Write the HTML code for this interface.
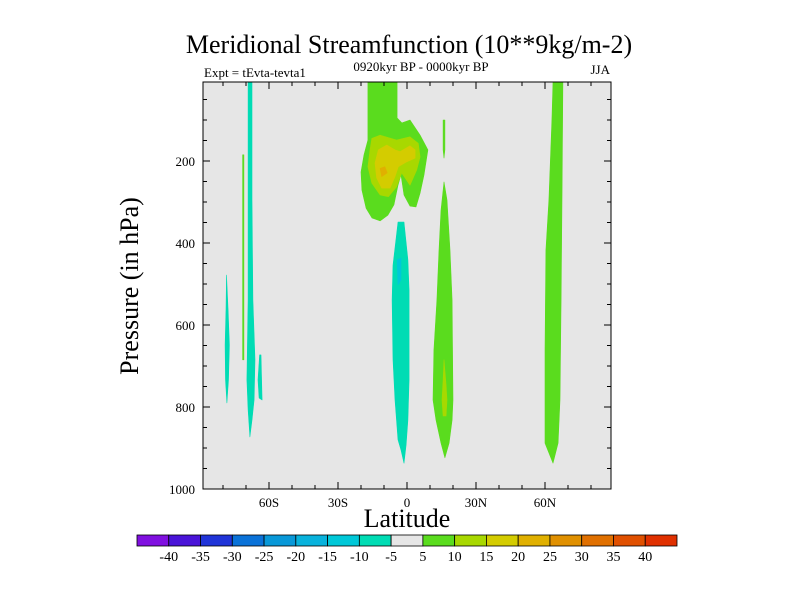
<!DOCTYPE html>
<html><head><meta charset="utf-8"><style>
html,body{margin:0;padding:0;background:#fff;}
svg{display:block;font-family:"Liberation Serif",serif;}
</style></head><body>
<svg id="chart" width="800" height="600" viewBox="0 0 800 600" xmlns="http://www.w3.org/2000/svg">
<text x="409" y="53" font-size="26" text-anchor="middle">Meridional Streamfunction (10**9kg/m-2)</text>
<text x="204" y="77" font-size="13">Expt = tEvta-tevta1</text>
<text x="421" y="71" font-size="13" text-anchor="middle">0920kyr BP - 0000kyr BP</text>
<text x="610" y="74" font-size="13" text-anchor="end">JJA</text>
<text transform="translate(138,286) rotate(-90)" font-size="26" text-anchor="middle">Pressure (in hPa)</text>
<text x="407" y="527" font-size="26" text-anchor="middle">Latitude</text>
<rect x="203" y="82" width="408" height="407" fill="#e6e6e6"/>
<g id="fills"></g>
<rect x="203" y="82" width="408" height="407" fill="none" stroke="#000" stroke-width="1"/>
<g id="ticks"></g>
<g id="cbar"></g>
</svg>
<script>
const levelColors = ["#8010e0","#4a14d8","#2034d8","#0a72d8","#0898d8","#08b2dc","#00c8d8","#00dcb4","#e6e6e6","#5adc1e","#a8d800","#d4cc00","#e0b000","#e09000","#e07000","#e05000","#e03000"];
const levelLabels = ["-40","-35","-30","-25","-20","-15","-10","-5","5","10","15","20","25","30","35","40"];
const latTicks = [-60,-30,0,30,60];
const latTickLabels = ["60S","30S","0","30N","60N"];
const presTicks = [200,400,600,800,1000];
// contour regions: [level color index, [[lat, hPa], ...]]
const regionEqGreen = [[-17.0,7],[-4.3,7],[-4.3,95],[-2.2,107],[1.3,100],[5.7,137],[9.1,173],[7.4,234],[5.7,278],[3.9,312],[1.3,310],[-1.3,283],[-2.6,234],[-3.9,259],[-5.7,307],[-8.3,332],[-11.7,346],[-15.2,339],[-17.8,315],[-19.6,271],[-20.0,227],[-18.7,185],[-17.0,149]];
const regionEqYG = [[-15.3,145],[-11.7,137],[-4.5,149],[1.3,141],[4.9,157],[5.7,190],[4.2,222],[1.3,259],[-2.3,229],[-4.5,263],[-8.1,287],[-11.7,283],[-15.3,254],[-17.0,214],[-16.1,173]];
const regionEqYellow = [[-12.5,173],[-8.8,161],[-5.2,173],[-3.0,177],[1.3,163],[3.5,173],[3.5,193],[-0.1,202],[-3.8,214],[-5.2,238],[-7.4,266],[-11.0,266],[-13.2,241],[-13.9,205]];
const regionEqOrange = [[-11.7,218],[-9.6,214],[-8.6,229],[-11.0,238]];
const regionEqCyan = [[-3.9,349],[-1.3,349],[0.4,441],[0.9,515],[0.9,734],[0.4,832],[-0.4,893],[-1.3,937],[-2.6,905],[-3.9,880],[-5.2,783],[-6.1,685],[-6.5,539],[-6.1,454]];
const regionEqBlue = [[-4.3,441],[-2.6,437],[-2.6,490],[-3.9,502]];
const regionN15Sliver = [[15.7,100],[16.5,100],[16.5,173],[16.1,193],[15.7,173]];
const regionN15 = [[16.1,251],[17.4,295],[18.7,417],[19.6,539],[20.0,783],[19.6,832],[18.3,888],[16.5,924],[14.8,888],[12.6,832],[11.3,783],[11.7,661],[13.0,539],[13.9,417],[14.8,320]];
const regionN15Spot = [[16.1,685],[17.0,746],[17.4,783],[17.0,822],[15.7,822],[15.2,783],[15.7,734]];
const regionN60 = [[63.5,7],[67.8,7],[67.4,295],[67.0,539],[66.5,783],[65.7,888],[63.5,937],[60.0,888],[60.0,661],[60.4,417],[61.7,295],[63.0,100]];
const regionS68 = [[-69.1,7],[-67.4,7],[-67.4,295],[-67.0,539],[-66.1,685],[-66.5,783],[-67.4,832],[-68.3,873],[-69.1,807],[-69.6,734],[-69.1,539],[-69.1,295]];
const regionS71 = [[-71.5,185],[-70.9,185],[-70.9,685],[-71.5,685]];
const regionS79 = [[-78.5,478],[-77.8,563],[-77.2,649],[-77.6,734],[-78.3,790],[-78.9,734],[-79.1,649],[-78.7,563]];
const regionS63 = [[-64.1,673],[-63.5,673],[-63.0,783],[-64.3,778],[-64.8,734]];
const regions = [
 ["eq-green",9,regionEqGreen],["eq-yellowgreen",10,regionEqYG],["eq-yellow",11,regionEqYellow],["eq-orange",12,regionEqOrange],
 ["eq-cyan",7,regionEqCyan],["eq-blue",6,regionEqBlue],["n15-sliver",9,regionN15Sliver],["n15-green",9,regionN15],["n15-spot",10,regionN15Spot],
 ["n60-green",9,regionN60],["s68-cyan",7,regionS68],["s71-green",9,regionS71],["s79-cyan",7,regionS79],["s63-cyan",7,regionS63]];

const NS="http://www.w3.org/2000/svg";
const X0=203,X1=611,Y0=82,Y1=489;
function xs(lat){return 407+lat*2.3;}
function ys(p){return 79+p*0.41;}
function mk(tag,attrs,parent){const e=document.createElementNS(NS,tag);for(const k in attrs)e.setAttribute(k,attrs[k]);parent.appendChild(e);return e;}

const fills=document.getElementById('fills');
regions.forEach(r=>{
  const pts=r[2].map(d=>xs(d[0]).toFixed(1)+","+ys(d[1]).toFixed(1)).join(" ");
  const el=mk('polygon',{points:pts,fill:levelColors[r[1]],stroke:levelColors[r[1]],'stroke-width':0.6,'stroke-linejoin':'round'},fills);
  
  
});

const tk=document.getElementById('ticks');
for(let lat=-80;lat<=80;lat+=10){
  const major=lat%30===0, len=major?7:4, x=xs(lat);
  mk('line',{x1:x,y1:Y1,x2:x,y2:Y1-len,stroke:'#000'},tk);
  mk('line',{x1:x,y1:Y0,x2:x,y2:Y0+len,stroke:'#000'},tk);
}
latTicks.forEach((lat,i)=>{
  const t=mk('text',{x:xs(lat),y:Y1+18,'font-size':13,'text-anchor':'middle'},tk);
  t.textContent=latTickLabels[i];
  
  
});
for(let p=50;p<=1000;p+=50){
  const major=p%200===0, len=major?7:4, y=ys(p);
  if(y<Y0)continue;
  mk('line',{x1:X0,y1:y,x2:X0+len,y2:y,stroke:'#000'},tk);
  mk('line',{x1:X1,y1:y,x2:X1-len,y2:y,stroke:'#000'},tk);
}
presTicks.forEach(p=>{
  const t=mk('text',{x:X0-8,y:ys(p)+5,'font-size':13,'text-anchor':'end'},tk);
  t.textContent=String(p);
  
  
});

const cb=document.getElementById('cbar');
const CB0=137,CBW=540/levelColors.length,CBY=535,CBH=11;
levelColors.forEach((c,i)=>{
  const r=mk('rect',{x:CB0+i*CBW,y:CBY,width:CBW,height:CBH,fill:c,stroke:'#000','stroke-width':0.8},cb);
  
  
});
levelLabels.forEach((l,i)=>{
  const t=mk('text',{x:CB0+(i+1)*CBW,y:CBY+CBH+15,'font-size':14,'text-anchor':'middle'},cb);
  t.textContent=l;
  
  
});
</script>
</body></html>
